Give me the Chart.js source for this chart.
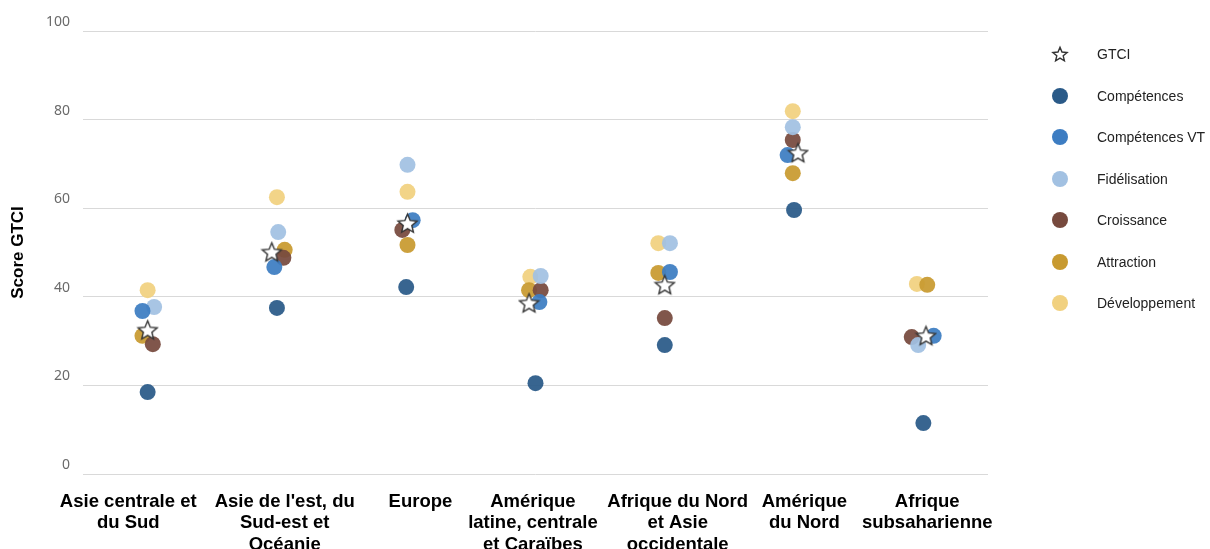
<!DOCTYPE html>
<html>
<head>
<meta charset="utf-8">
<script src="https://cdn.jsdelivr.net/npm/chart.js@4.4.1/dist/chart.umd.min.js"></script>
<style>
  body { margin: 0; background: #fff; }
  #wrap { position: relative; width: 1210px; height: 549px; }
  #legend { position: absolute; left: 1048px; top: 43px; font-family: "Liberation Sans", Arial, sans-serif; font-size: 14px; color: #222; }
  .item { position: absolute; left: 0; height: 22px; width: 162px; }
  .item .ico { position: absolute; left: 12px; top: 11px; transform: translate(-50%, -50%); }
  .item .lbl { position: absolute; left: 49px; top: 3px; white-space: nowrap; }
</style>
</head>
<body>
<div id="wrap">
  <canvas id="chart" width="1210" height="549"></canvas>
  <div id="legend"></div>
</div>
<script>
const categories = [
    ["Asie centrale et", "du Sud"],
    ["Asie de l'est, du", "Sud-est et", "Océanie"],
    "Europe",
    ["Amérique", "latine, centrale", "et Caraïbes"],
    ["Afrique du Nord", "et Asie", "occidentale"],
    ["Amérique", "du Nord"],
    ["Afrique", "subsaharienne"]
];
const yTicks = [0, 20, 40, 60, 80, 100];

const gtci = [32.5, 50.1, 56.6, 38.6, 42.7, 72.5, 31.2];
const competences = [18.5, 37.5, 42.2, 20.5, 29.1, 59.6, 11.5];
const competencesVT = [36.8, 46.7, 57.3, 38.8, 45.6, 72.0, 31.2];
const fidelisation = [37.7, 54.6, 69.8, 44.7, 52.1, 78.3, 29.1];
const croissance = [29.3, 48.8, 55.1, 41.5, 35.2, 75.4, 30.9];
const attraction = [31.2, 50.6, 51.7, 41.5, 45.4, 67.9, 42.7];
const developpement = [41.5, 62.5, 63.7, 44.5, 52.1, 81.9, 42.9];

// small sideways spread of the dots inside each region (in category units)
const gtciJitter = [0, -0.04, 0.01, -0.05, 0, 0.03, 0.02];
const competencesJitter = [0, 0, 0, 0, 0, 0, 0];
const competencesVTJitter = [-0.04, -0.02, 0.05, 0.03, 0.04, -0.05, 0.08];
const fidelisationJitter = [0.05, 0.01, 0.01, 0.04, 0.04, -0.01, -0.04];
const croissanceJitter = [0.04, 0.05, -0.03, 0.04, 0, -0.01, -0.09];
const attractionJitter = [-0.04, 0.06, 0.01, -0.05, -0.05, -0.01, 0.03];
const developpementJitter = [0, 0, 0.01, -0.04, -0.05, -0.01, -0.05];
// the region names do not sit exactly under their dots
const labelJitter = [-0.15, 0.06, 0.11, -0.02, 0.10, 0.08, 0.03];

// five point star used for the GTCI marks
const makeStar = (size) => {
    const c = document.createElement("canvas");
    c.width = size; c.height = size;
    const ctx = c.getContext("2d");
    const cx = size / 2, cy = size / 2 + 0.8;
    const outer = size / 2 - 1.5, inner = outer * 0.45;
    ctx.beginPath();
    for (let i = 0; i < 10; i++) {
        const r = i % 2 === 0 ? outer : inner;
        const a = -Math.PI / 2 + i * Math.PI / 5;
        const x = cx + r * Math.cos(a), y = cy + r * Math.sin(a);
        if (i === 0) ctx.moveTo(x, y); else ctx.lineTo(x, y);
    }
    ctx.closePath();
    ctx.fillStyle = "#fff";
    ctx.fill();
    ctx.lineWidth = 1.4;
    ctx.strokeStyle = "#333";
    ctx.stroke();
    return c;
};
const star = makeStar(23);
const legendStar = makeStar(18);

const series = [
    { label: "GTCI", data: gtci, jitter: gtciJitter, color: "#333", style: star },
    { label: "Compétences", data: competences, jitter: competencesJitter, color: "#2a5a88" },
    { label: "Compétences VT", data: competencesVT, jitter: competencesVTJitter, color: "#3d7dc2" },
    { label: "Fidélisation", data: fidelisation, jitter: fidelisationJitter, color: "#a2c1e2" },
    { label: "Croissance", data: croissance, jitter: croissanceJitter, color: "#774a3e" },
    { label: "Attraction", data: attraction, jitter: attractionJitter, color: "#c89a30" },
    { label: "Développement", data: developpement, jitter: developpementJitter, color: "#f1d180" }
];

const datasets = series.map(s => ({
    label: s.label,
    data: s.data.map((v, i) => ({ x: i + s.jitter[i], y: v })),
    pointStyle: s.style || "circle",
    pointRadius: s.style ? 11 : 8,
    pointHoverRadius: s.style ? 11 : 8,
    pointBackgroundColor: s.style ? "#fff" : s.color + "ee",
    pointBorderColor: s.style ? "#333" : s.color + "ee",
    pointBorderWidth: 0
}));

new Chart(document.getElementById("chart"), {
    type: "scatter",
    data: { datasets: datasets },
    options: {
        responsive: false,
        devicePixelRatio: 1,
        animation: false,
        layout: { padding: { top: 31, right: 222, left: 0, bottom: 0 } },
        plugins: { legend: { display: false }, tooltip: { enabled: false } },
        scales: {
            x: {
                type: "linear",
                min: -0.5,
                max: categories.length - 0.5,
                afterBuildTicks: (scale) => {
                    scale.ticks = categories.map((c, i) => ({ value: i + labelJitter[i] }));
                },
                grid: { display: false },
                border: { display: false },
                ticks: {
                    callback: (v, i) => categories[i],
                    color: "#000",
                    font: { family: "Liberation Sans", size: 18.5, weight: "bold", lineHeight: 1.16 },
                    padding: 9,
                    maxRotation: 0,
                    autoSkip: false
                },
                afterFit: (scale) => { scale.height = 75; }
            },
            y: {
                min: 0,
                max: 100,
                afterBuildTicks: (scale) => { scale.ticks = yTicks.map(v => ({ value: v })); },
                grid: { color: "#d9d9d9", drawTicks: false },
                border: { display: false },
                ticks: {
                    color: "#6a6a6a",
                    font: { family: "Noto Sans", size: 14 },
                    padding: 13,
                    labelOffset: -9
                },
                title: {
                    display: true,
                    text: "Score GTCI",
                    color: "#000",
                    font: { family: "Liberation Sans", size: 17, weight: "bold" },
                    padding: { top: 8, bottom: 0 }
                },
                afterFit: (scale) => { scale.width = 83; }
            }
        }
    }
});

// legend on the right, built from the same series list
const legend = document.getElementById("legend");
series.forEach((s, i) => {
    const item = document.createElement("div");
    item.className = "item";
    item.style.top = (i * 41.5) + "px";
    let ico;
    if (s.style) {
        ico = document.createElement("img");
        ico.src = legendStar.toDataURL();
    } else {
        ico = document.createElement("span");
        ico.style.display = "block";
        ico.style.width = "16px";
        ico.style.height = "16px";
        ico.style.borderRadius = "50%";
        ico.style.background = s.color;
    }
    ico.className = "ico";
    const lbl = document.createElement("span");
    lbl.className = "lbl";
    lbl.textContent = s.label;
    item.appendChild(ico);
    item.appendChild(lbl);
    legend.appendChild(item);
});
</script>
</body>
</html>
